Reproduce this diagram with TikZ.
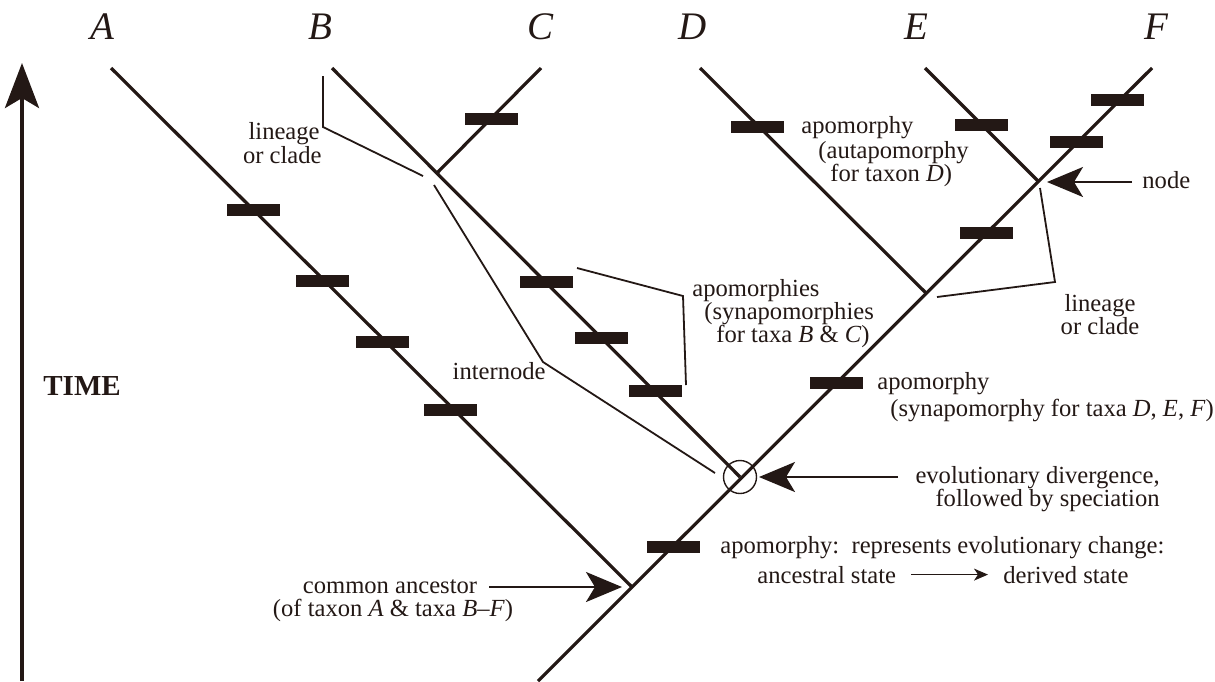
\documentclass[tikz,border=0pt]{standalone}
\usepackage{fontspec}
\setmainfont{Liberation Serif}
\usetikzlibrary{arrows.meta,calc,positioning}
\definecolor{ink}{RGB}{35,24,21}
\tikzset{
    branch/.style={line width=1.6pt},
    callout/.style={line width=0.9pt},
    apo/.style={rectangle, fill, minimum width=26.5pt, minimum height=6pt, inner sep=0pt},
    txt/.style={font=\fontsize{12.3}{14}\selectfont, inner sep=0pt},
    taxon/.style={font=\fontsize{19.5}{22}\selectfont\itshape, inner sep=0pt, anchor=base},
    pointer/.style={line width=1.2pt, -{Stealth[length=18pt,width=15pt,inset=4.5pt]}},
}

\begin{document}
\begin{tikzpicture}[x=0.5pt, y=-0.5pt, ink]
            \useasboundingbox (0,0) rectangle (1215,681);
            % tips and branching points
            \coordinate (tA) at (111,68);
            \coordinate (tB) at (332,68);
            \coordinate (tC) at (541,68);
            \coordinate (tD) at (700,68);
            \coordinate (tE) at (925,68);
            \coordinate (tF) at (1152,68);
            \coordinate (root) at (538,681);
            \coordinate (anc) at (632,587);
            \coordinate (div) at (740,477);
            \coordinate (jBC) at (437,173);
            \coordinate (jD) at (926,293);
            \coordinate (jEF) at (1039,182);

            \foreach \t/\x in {A/102,B/320,C/540,D/693,E/916,F/1156}
                {
                \node[taxon] (lab\t) at (\x,39) {\t};
                }

            \draw[branch] (root) -- (tF);
            \draw[branch] (tA) -- (anc);
            \draw[branch] (tB) -- (div);
            \draw[branch] (tC) -- (jBC);
            \draw[branch] (tD) -- (jD);
            \draw[branch] (tE) -- (jEF);

            % apomorphies
            \foreach \p [count=\i] in {(253,210),(322,281),(382,342),(450,410),(491,119),(546,282),(601,338),(655,391),(757,127),(981,125),(1117,100),(1076,142),(986,233),(836,383),(673,547)}
                {
                \node[apo] (apo\i) at \p {};
                }

            \node[circle, draw, minimum size=16.5pt, inner sep=0pt, line width=0.7pt] (divc) at (div) {};

            % time axis
            \coordinate (timeBot) at (22,681);
            \coordinate (timeTop) at (22,63);
            \draw[line width=2pt, -{Stealth[length=22.5pt,width=17pt,inset=5pt]}] (timeBot) -- (timeTop);
            \node[font=\fontsize{14.5}{16}\selectfont\bfseries, inner sep=0pt, anchor=base west] (time) at (43,395) {TIME};

            % callout lines
            \coordinate (linL1) at (323,76);
            \coordinate (linL2) at (323,127);
            \coordinate (linL3) at (423,176);
            \draw[callout] (linL1) -- (linL2) -- (linL3);
            \coordinate (int1) at (434,185);
            \coordinate (int2) at (543,362);
            \coordinate (int3) at (715,473);
            \draw[callout] (int1) -- (int2) -- (int3);
            \coordinate (syn1) at (577,268);
            \coordinate (syn2) at (683,296);
            \coordinate (syn3) at (686,385);
            \draw[callout] (syn1) -- (syn2) -- (syn3);
            \coordinate (linR1) at (1040,188);
            \coordinate (linR2) at (1055,282);
            \coordinate (linR3) at (937,297);
            \draw[callout] (linR1) -- (linR2) -- (linR3);

            % pointers
            \coordinate (ndS) at (1132,182);
            \coordinate (ndT) at (1047,182);
            \draw[pointer] (ndS) -- (ndT);
            \coordinate (evS) at (898,477);
            \coordinate (evT) at (759,477);
            \draw[pointer] (evS) -- (evT);
            \coordinate (caS) at (489,587);
            \coordinate (caT) at (622,587);
            \draw[pointer] (caS) -- (caT);

            % labels
            \node[txt, anchor=base east] (linLa) at (320,139) {lineage};
            \node[txt, anchor=base east] (linLb) at (322,163) {or clade};
            \node[txt, anchor=base west] (autA) at (801,133) {apomorphy};
            \node[txt, anchor=base west] (autB) at (818,158) {(autapomorphy};
            \node[txt, anchor=base west] (autC) at (830,181) {for taxon \textit{D})};
            \node[txt, anchor=base west] (nodeL) at (1142,188) {node};
            \node[txt, anchor=base] (linRa) at (1100,311) {lineage};
            \node[txt, anchor=base] (linRb) at (1100,334) {or clade};
            \node[txt, anchor=base west] (synBa) at (692,296) {apomorphies};
            \node[txt, anchor=base west] (synBb) at (704,319) {(synapomorphies};
            \node[txt, anchor=base west] (synBc) at (716,342) {for taxa \textit{B} \& \textit{C})};
            \node[txt, anchor=base east] (intl) at (546,379) {internode};
            \node[txt, anchor=base west] (synDa) at (877,389) {apomorphy};
            \node[txt, anchor=base west] (synDb) at (890,416) {(synapomorphy for taxa \textit{D}, \textit{E}, \textit{F})};
            \node[txt, anchor=base east] (evA) at (1160,483) {evolutionary divergence,};
            \node[txt, anchor=base east] (evB) at (1160,506) {followed by speciation};
            \node[txt, anchor=base west] (apA) at (720,553) {apomorphy:\ \ represents evolutionary change:};
            \node[txt, anchor=base west] (apB) at (757,583) {ancestral state};
            \node[txt, anchor=base west] (apC) at (1003,583) {derived state};
            \draw[line width=0.6pt, -{Stealth[length=7pt,width=6pt,inset=2pt]}, shorten <=7.5pt, shorten >=7.5pt] (apB.east) -- (apC.west);
            \node[txt, anchor=base] (caA) at (390,593) {common ancestor};
            \node[txt, anchor=base] (caB) at (393,616) {(of taxon \textit{A} \& taxa \textit{B}--\textit{F})};

        \end{tikzpicture}
\end{document}
